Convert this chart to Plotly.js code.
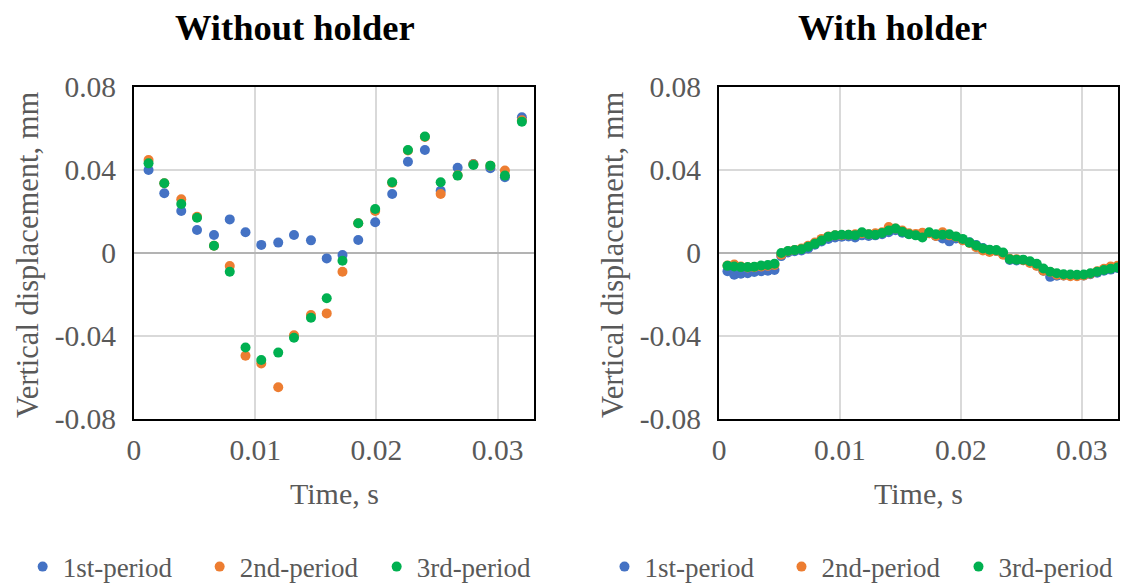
<!DOCTYPE html>
<html>
<head>
<meta charset="utf-8">
<script src="https://cdn.plot.ly/plotly-3.0.1.min.js"></script>
<style>html,body{margin:0;padding:0;background:#fff;}#chart{width:1132px;height:587px;}</style>
</head>
<body>
<div id="chart"></div>
<script>
// ---- Data: Without holder ----
const timeA = [0.0012, 0.0025, 0.0039, 0.0052, 0.0066, 0.0079, 0.0092, 0.0105, 0.0119, 0.0132, 0.0146, 0.0159,
               0.0172, 0.0185, 0.0199, 0.0213, 0.0226, 0.0240, 0.0253, 0.0267, 0.0280, 0.0294, 0.0306, 0.0320];
const noHolder1 = [0.0400, 0.0288, 0.0202, 0.0111, 0.0087, 0.0162, 0.0100, 0.0039, 0.0050, 0.0087, 0.0061, -0.0026,
                   -0.0010, 0.0063, 0.0148, 0.0284, 0.0440, 0.0496, 0.0300, 0.0411, 0.0429, 0.0408, 0.0365, 0.0654];
const noHolder2 = [0.0448, 0.0336, 0.0259, 0.0175, 0.0035, -0.0063, -0.0495, -0.0532, -0.0647, -0.0396, -0.0299, -0.0291,
                   -0.0090, 0.0143, 0.0202, 0.0338, 0.0494, 0.0559, 0.0284, 0.0375, 0.0428, 0.0420, 0.0397, 0.0640];
const noHolder3 = [0.0432, 0.0336, 0.0236, 0.0170, 0.0035, -0.0090, -0.0455, -0.0516, -0.0480, -0.0408, -0.0312, -0.0218,
                   -0.0037, 0.0143, 0.0212, 0.0341, 0.0496, 0.0561, 0.0341, 0.0373, 0.0424, 0.0421, 0.0373, 0.0633];

// ---- Data: With holder ----
const timeB = [0.00070, 0.00126, 0.00181, 0.00237, 0.00292, 0.00348, 0.00404, 0.00459, 0.00515, 0.00570,
               0.00626, 0.00682, 0.00737, 0.00793, 0.00848, 0.00904, 0.00960, 0.01015, 0.01071, 0.01126,
               0.01182, 0.01238, 0.01293, 0.01349, 0.01404, 0.01460, 0.01516, 0.01571, 0.01627, 0.01682,
               0.01738, 0.01794, 0.01849, 0.01905, 0.01960, 0.02016, 0.02072, 0.02127, 0.02183, 0.02238,
               0.02294, 0.02350, 0.02405, 0.02461, 0.02516, 0.02572, 0.02628, 0.02683, 0.02739, 0.02794,
               0.02850, 0.02906, 0.02961, 0.03017, 0.03072, 0.03128, 0.03184, 0.03239, 0.03295];
const holder1 = [-0.0088, -0.0105, -0.0100, -0.0098, -0.0092, -0.0088, -0.0085, -0.0082,
                 -0.0015, 0.0002, 0.0008, 0.0012, 0.0022, 0.0040, 0.0055,
                 0.0068, 0.0075, 0.0078, 0.0080, 0.0075,
                 0.0085, 0.0082, 0.0085, 0.0090, 0.0100, 0.0110, 0.0098, 0.0092, 0.0088, 0.0080,
                 0.0095, 0.0082, 0.0070, 0.0056, 0.0070, 0.0062, 0.0052, 0.0038, 0.0024, 0.0015, 0.0010, -0.0005,
                 -0.0034, -0.0036, -0.0035, -0.0045, -0.0060, -0.0085, -0.0115, -0.0110, -0.0108, -0.0108,
                 -0.0110, -0.0108, -0.0102, -0.0095, -0.0085, -0.0080, -0.0072];
const holder2 = [-0.0060, -0.0055, -0.0065, -0.0070, -0.0068, -0.0065, -0.0062, -0.0058,
                 -0.0008, 0.0008, 0.0015, 0.0022, 0.0035, 0.0050, 0.0068,
                 0.0080, 0.0085, 0.0086, 0.0088, 0.0090,
                 0.0095, 0.0090, 0.0095, 0.0100, 0.0125, 0.0118, 0.0108, 0.0095, 0.0092, 0.0098,
                 0.0095, 0.0082, 0.0100, 0.0085, 0.0078, 0.0062, 0.0048, 0.0028, 0.0012, 0.0005, 0.0010, -0.0008,
                 -0.0028, -0.0030, -0.0035, -0.0048, -0.0062, -0.0085, -0.0092, -0.0105, -0.0108, -0.0112,
                 -0.0112, -0.0108, -0.0100, -0.0088, -0.0076, -0.0065, -0.0062];
const holder3 = [-0.0062, -0.0065, -0.0068, -0.0068, -0.0066, -0.0060, -0.0058, -0.0052,
                 0.0000, 0.0010, 0.0014, 0.0018, 0.0030, 0.0044, 0.0060,
                 0.0078, 0.0085, 0.0088, 0.0088, 0.0086,
                 0.0100, 0.0090, 0.0088, 0.0096, 0.0108, 0.0118, 0.0102, 0.0090, 0.0085, 0.0075,
                 0.0100, 0.0090, 0.0088, 0.0090, 0.0080, 0.0068, 0.0050, 0.0036, 0.0022, 0.0016, 0.0014, 0.0002,
                 -0.0030, -0.0032, -0.0032, -0.0040, -0.0052, -0.0075, -0.0090, -0.0098, -0.0102, -0.0104,
                 -0.0105, -0.0104, -0.0098, -0.0090, -0.0082, -0.0076, -0.0070];

const seriesNames = ['1st-period', '2nd-period', '3rd-period'];
const seriesColors = ['#4472C4', '#ED7D31', '#00B050'];
const xTickVals = [0, 0.01, 0.02, 0.03];
const xTickText = ['0', '0.01', '0.02', '0.03'];
const yTickVals = [-0.08, -0.04, 0, 0.04, 0.08];
const yTickText = ['-0.08', '-0.04', '0', '0.04', '0.08'];
const titles = ['Without holder', 'With holder'];

const FONT = 'Liberation Serif, Times New Roman, serif';
const GRAY = '#595959';

const traces = [];
const leftY = [noHolder1, noHolder2, noHolder3];
const rightY = [holder1, holder2, holder3];
for (let i = 0; i < 3; i++) {
  traces.push({x: timeA, y: leftY[i], type: 'scatter', mode: 'markers', name: seriesNames[i],
    marker: {color: seriesColors[i], size: 10}, xaxis: 'x', yaxis: 'y', legend: 'legend'});
}
for (let i = 0; i < 3; i++) {
  traces.push({x: timeB, y: rightY[i], type: 'scatter', mode: 'markers', name: seriesNames[i],
    marker: {color: seriesColors[i], size: 10}, xaxis: 'x2', yaxis: 'y2', legend: 'legend2'});
}

function xax(domain) {
  return {domain: domain, range: [0, 0.033], tickvals: xTickVals, ticktext: xTickText,
    showgrid: true, gridcolor: '#d9d9d9', gridwidth: 2, zeroline: false,
    showline: true, mirror: true, linecolor: '#000', linewidth: 2, ticks: '',
    ticklabelstandoff: 4, tickfont: {family: FONT, size: 29.5, color: GRAY}, fixedrange: true};
}
function yax(domain, anchor) {
  return {domain: domain, range: [-0.08, 0.08], tickvals: yTickVals, ticktext: yTickText, anchor: anchor,
    showgrid: true, gridcolor: '#d9d9d9', gridwidth: 2, zeroline: true, zerolinecolor: '#b3b3b3', zerolinewidth: 2,
    showline: true, mirror: true, linecolor: '#000', linewidth: 2, ticks: '',
    ticklabelstandoff: 10, tickfont: {family: FONT, size: 29.5, color: GRAY}, fixedrange: true};
}

const yDom = [0.2862, 0.8518];
const legendBase = {orientation: 'h', yanchor: 'middle', y: 0.034, xanchor: 'left',
  font: {family: FONT, size: 27, color: GRAY}, bgcolor: 'rgba(0,0,0,0)',
  entrywidth: 132, entrywidthmode: 'pixels', itemclick: false, itemdoubleclick: false};

const layout = {
  width: 1132, height: 587,
  margin: {l: 0, r: 0, t: 0, b: 0, autoexpand: false},
  paper_bgcolor: '#fff', plot_bgcolor: '#fff',
  showlegend: true,
  xaxis: xax([0.11837, 0.47173]),
  yaxis: yax(yDom, 'x'),
  xaxis2: xax([0.63516, 0.98763]),
  yaxis2: yax(yDom, 'x2'),
  legend: Object.assign({}, legendBase, {x: 0.020}),
  legend2: Object.assign({}, legendBase, {x: 0.534}),
  annotations: [
    {text: '<b>' + titles[0] + '</b>', xref: 'paper', yref: 'paper', x: 0.2606, y: 0.9523, showarrow: false,
     font: {family: FONT, size: 36.5, color: '#000'}, xanchor: 'center', yanchor: 'middle'},
    {text: '<b>' + titles[1] + '</b>', xref: 'paper', yref: 'paper', x: 0.788, y: 0.9523, showarrow: false,
     font: {family: FONT, size: 36.5, color: '#000'}, xanchor: 'center', yanchor: 'middle'},
    {text: 'Vertical displacement, mm', xref: 'paper', yref: 'paper', x: 0.0247, y: 0.5656, textangle: -90,
     showarrow: false, font: {family: FONT, size: 30.5, color: GRAY}, xanchor: 'center', yanchor: 'middle'},
    {text: 'Vertical displacement, mm', xref: 'paper', yref: 'paper', x: 0.5415, y: 0.5656, textangle: -90,
     showarrow: false, font: {family: FONT, size: 30.5, color: GRAY}, xanchor: 'center', yanchor: 'middle'},
    {text: 'Time, s', xref: 'paper', yref: 'paper', x: 0.2951, y: 0.1600, showarrow: false,
     font: {family: FONT, size: 30, color: GRAY}, xanchor: 'center', yanchor: 'middle'},
    {text: 'Time, s', xref: 'paper', yref: 'paper', x: 0.8118, y: 0.1600, showarrow: false,
     font: {family: FONT, size: 30, color: GRAY}, xanchor: 'center', yanchor: 'middle'}
  ]
};

Plotly.newPlot('chart', traces, layout, {displayModeBar: false, staticPlot: true});
</script>
</body>
</html>
